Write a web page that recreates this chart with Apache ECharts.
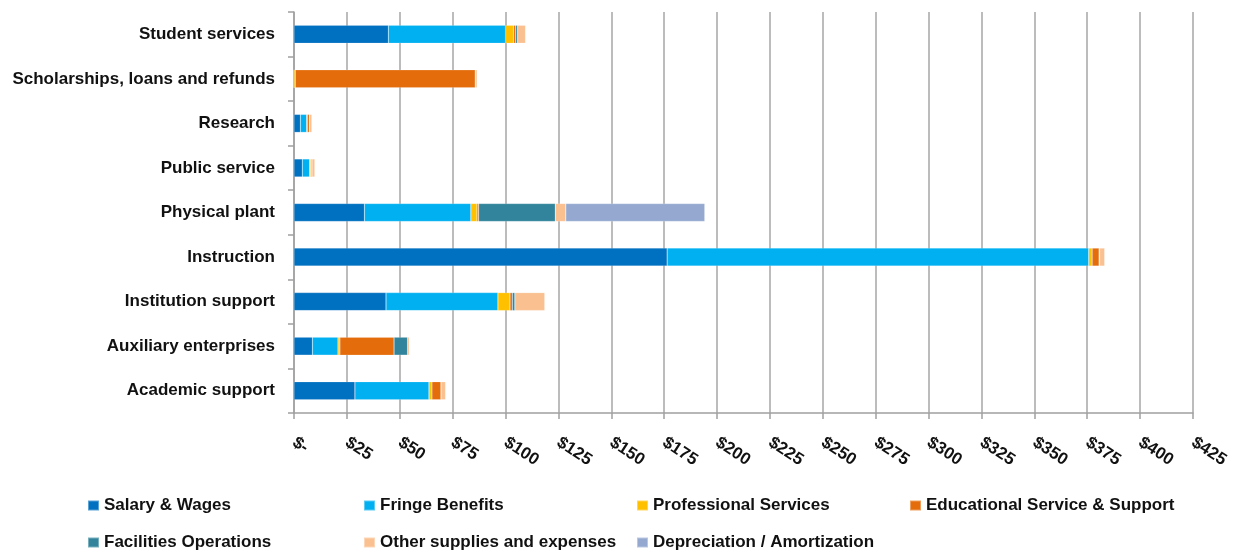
<!DOCTYPE html>
<html>
<head>
<meta charset="utf-8">
<script src="https://cdn.jsdelivr.net/npm/echarts@6/dist/echarts.min.js"></script>
<style>
html,body{margin:0;padding:0;background:#fff;}
#chart{width:1243px;height:552px;}
</style>
</head>
<body>
<div id="chart"></div>
<script>
const categories = ["Academic support","Auxiliary enterprises","Institution support","Instruction","Physical plant","Public service","Research","Scholarships, loans and refunds","Student services"];
const seriesNames = ["Salary & Wages","Fringe Benefits","Professional Services","Educational Service & Support","Facilities Operations","Other supplies and expenses","Depreciation / Amortization"];
const salary       = [28.8, 8.7, 43.5, 176.4, 33.3, 3.9, 3.0, 0, 44.6];
const fringe       = [35.0, 12.1, 52.9, 199.3, 50.3, 3.5, 3.0, 0, 55.4];
const professional = [1.4, 0.9, 5.7, 1.6, 2.9, 0.5, 0.3, 0.6, 3.8];
const educational  = [4.3, 25.6, 1.1, 3.3, 0.8, 0.5, 1.0, 85.1, 1.0];
const facilities   = [0, 6.4, 1.2, 0.3, 36.2, 0.1, 0.1, 0, 0.9];
const other        = [2.2, 0.8, 14.2, 2.4, 5.0, 1.4, 1.1, 0.9, 3.8];
const depreciation = [0, 0, 0, 0, 65.7, 0, 0, 0, 0];
const tickValues = [0,25,50,75,100,125,150,175,200,225,250,275,300,325,350,375,400,425];
const colors = ["#0070C0","#00B0F0","#FFC000","#E46C0A","#31849B","#FAC090","#95A9D0"];

const allData = [salary, fringe, professional, educational, facilities, other, depreciation];
const FONT = "'Liberation Sans', Arial, sans-serif";

const legendPos = [
  {left: 87, top: 497}, {left: 363, top: 497}, {left: 636, top: 497}, {left: 909, top: 497},
  {left: 87, top: 534}, {left: 363, top: 534}, {left: 636, top: 534}
];

const chart = echarts.init(document.getElementById('chart'), null, {renderer: 'canvas'});
chart.setOption({
  animation: false,
  color: colors,
  grid: {left: 294, right: 50, top: 12, bottom: 139, containLabel: false},
  xAxis: {
    type: 'value', min: 0, max: 425, interval: 25,
    axisLine: {show: true, lineStyle: {color: '#a0a0a0', width: 1.5}},
    axisTick: {show: true, length: 6, lineStyle: {color: '#a0a0a0', width: 1.5}},
    splitLine: {show: true, lineStyle: {color: '#a6a6a6', width: 1.5}},
    axisLabel: {
      rotate: -33, margin: 28, color: '#111', fontFamily: FONT, fontSize: 17, fontWeight: 'bold',
      formatter: function (v) { return tickValues.indexOf(v) === 0 ? '$-' : '$' + v; }
    }
  },
  yAxis: {
    type: 'category', data: categories,
    axisLine: {show: true, lineStyle: {color: '#a0a0a0', width: 1.5}},
    axisTick: {show: true, length: 6, lineStyle: {color: '#a0a0a0', width: 1.5}},
    axisLabel: {color: '#111', fontFamily: FONT, fontSize: 17, fontWeight: 'bold', margin: 19}
  },
  legend: seriesNames.map(function (n, i) {
    return {
      data: [n], left: legendPos[i].left, top: legendPos[i].top, orient: 'horizontal',
      icon: 'rect', itemWidth: 11, itemHeight: 10, itemGap: 0, padding: 0,
      textStyle: {color: '#111', fontFamily: FONT, fontSize: 17, fontWeight: 'bold', padding: [0,0,0,0]}
    };
  }),
  series: seriesNames.map(function (n, i) {
    return {
      name: n, type: 'bar', stack: 'total', barWidth: 18,
      data: allData[i],
      itemStyle: {color: colors[i], borderColor: 'rgba(255,255,255,0.35)', borderWidth: 0.5}
    };
  })
});
</script>
</body>
</html>
